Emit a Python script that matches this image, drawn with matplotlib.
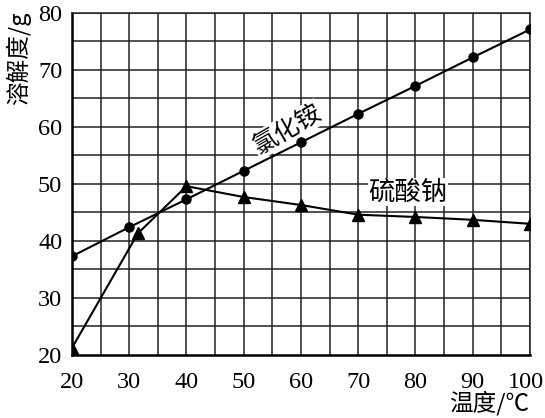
import matplotlib
matplotlib.use("Agg")
import matplotlib.pyplot as plt
import matplotlib.transforms as mtransforms
import numpy as np

temps = [20, 30, 40, 50, 60, 70, 80, 90, 100]
nh4cl = [37.3, 42.4, 47.3, 52.3, 57.3, 62.3, 67.2, 72.2, 77.1]
na2so4_t = [20, 31.5, 40, 50, 60, 70, 80, 90, 100]
na2so4 = [21.2, 41.3, 49.6, 47.7, 46.3, 44.6, 44.2, 43.7, 43.0]
xticks = [20, 30, 40, 50, 60, 70, 80, 90, 100]
yticks = [20, 30, 40, 50, 60, 70, 80]

cjk = ['Noto Sans CJK SC', 'DejaVu Sans']
serif = 'Liberation Serif'

fig = plt.figure(figsize=(5.45, 4.18), dpi=100)
ax = fig.add_axes([0.132, 0.151, 0.8405, 0.818])
ax.set_xlim(20, 100)
ax.set_ylim(20, 80)

for v in np.arange(25, 101, 5):
    ax.axvline(v, color='#222222', lw=1.1, zorder=1)
for v in np.arange(25, 81, 5):
    ax.axhline(v, color='#222222', lw=1.1, zorder=1)

ax.plot(temps, nh4cl, color='black', lw=1.5, marker='o', ms=6.5, zorder=4)
ax.plot(na2so4_t, na2so4, color='black', lw=1.5, marker='^', ms=8.5, zorder=4)

ax.text(57.6, 59.6, '氯化铵', family=cjk, fontsize=18, rotation=30,
        ha='center', va='center', zorder=3,
        bbox=dict(facecolor='white', edgecolor='none', pad=0.5))
ax.text(78.7, 48.6, '硫酸钠', family=cjk, fontsize=19,
        ha='center', va='center', zorder=3,
        bbox=dict(facecolor='white', edgecolor='none', pad=0.5))

ax.set_xticks(xticks)
ax.set_yticks(yticks)
ax.set_xticklabels([str(t) for t in xticks], family=serif, fontsize=17.5)
ax.set_yticklabels([str(t) for t in yticks], family=serif, fontsize=17.5)
ax.tick_params(length=0, pad=7)
ax.tick_params(axis='x', pad=12)

last = ax.get_xticklabels()[-1]
last.set_horizontalalignment('right')
last.set_transform(last.get_transform() +
                   mtransforms.ScaledTranslation(14/100, 0, fig.dpi_scale_trans))

for s in ['left', 'bottom']:
    ax.spines[s].set_linewidth(1.8)
for s in ['top', 'right']:
    ax.spines[s].set_linewidth(1.1)
    ax.spines[s].set_color('#222222')

fig.text(0.033, 0.86, '溶解度/g', family=cjk, fontsize=17, rotation=90,
         ha='center', va='center')
fig.text(0.897, 0.006, '温度/℃', family=cjk, fontsize=17,
         ha='center', va='bottom')

fig.savefig('out.png', dpi=100)
